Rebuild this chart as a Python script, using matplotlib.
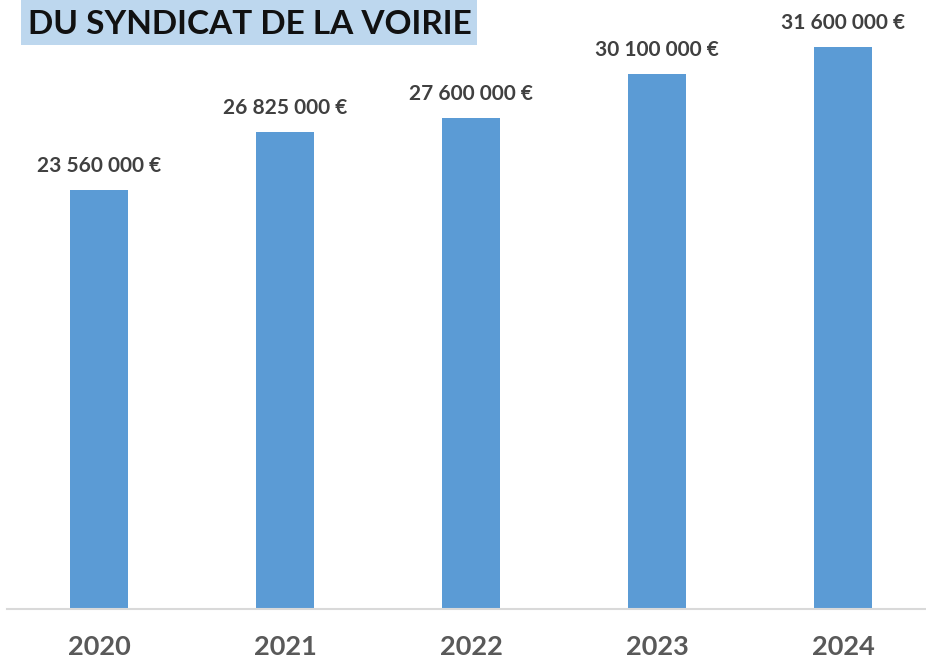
import matplotlib
matplotlib.use("Agg")
import matplotlib.pyplot as plt
from matplotlib.patches import Rectangle

years = ["2020", "2021", "2022", "2023", "2024"]
values = [23560000, 26825000, 27600000, 30100000, 31600000]
title = "DU SYNDICAT DE LA VOIRIE"

def fmt(v):
    return "{:,}".format(v).replace(",", " ") + " €"

W, H = 926, 663
fig = plt.figure(figsize=(W / 100, H / 100), dpi=100)
fig.patch.set_facecolor("white")

ax_left = 7 / W
ax_bottom = 1 - 609 / H
ax = fig.add_axes([ax_left, ax_bottom, 1 - ax_left, 609 / H])

px_per_unit = 186.0
x0 = 99.0
xs = list(range(len(years)))
ax.bar(xs, values, width=58 / px_per_unit, color="#5B9BD5", zorder=2)
ax.set_xlim((7 - x0) / px_per_unit, (W - x0) / px_per_unit)
scale = 562 / 31600000  # px per unit
ax.set_ylim(0, 609 / scale)

for s in ["top", "right", "left"]:
    ax.spines[s].set_visible(False)
ax.spines["bottom"].set_color("#D9D9D9")
ax.spines["bottom"].set_linewidth(1.5)
ax.set_yticks([])
ax.set_xticks(xs)
ax.set_xticklabels(years, fontfamily="Lato", fontweight="bold", fontsize=19.5, color="#595959")
ax.tick_params(axis="x", length=0, pad=19)

for x, v in zip(xs, values):
    ax.annotate(fmt(v), (x, v), xytext=(0, 10), textcoords="offset points",
                ha="center", va="bottom", fontfamily="Lato", fontweight="bold",
                fontsize=15, color="#404040")

# title box
fig.patches.append(Rectangle((21 / W, 1 - 45 / H), (477 - 21) / W, 45 / H,
                             transform=fig.transFigure, facecolor="#BDD7EE",
                             edgecolor="none", zorder=0))
fig.text(250 / W, 1 - 24 / H, title, ha="center", va="center",
         fontfamily="Lato", fontweight="bold", fontsize=24, color="#111111")

fig.savefig("out.png", dpi=100)
